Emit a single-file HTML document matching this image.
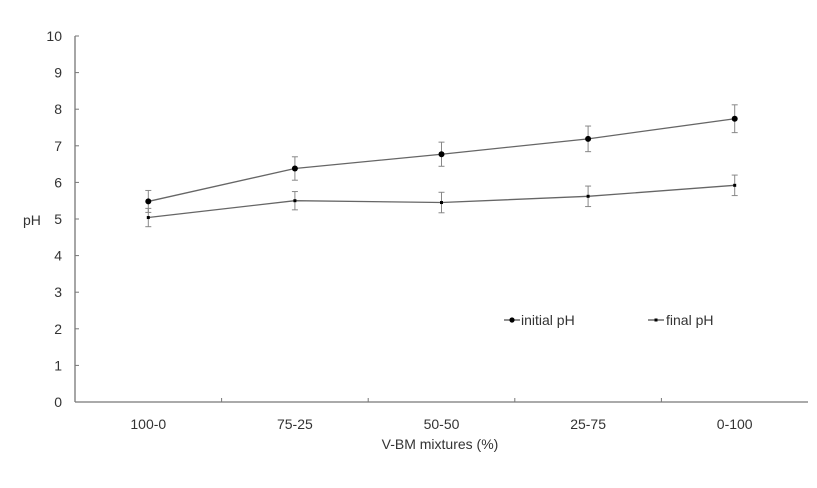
<!DOCTYPE html>
<html><head><meta charset="utf-8"><style>
body{margin:0;background:#fff;}
svg text{font-family:"Liberation Sans",sans-serif;fill:#333;}
</style></head><body>
<svg width="817" height="483" xmlns="http://www.w3.org/2000/svg">
<g id="axes"></g><g id="series"></g>
<text x="23" y="225" font-size="14">pH</text>
<text x="440" y="449" font-size="14" text-anchor="middle">V-BM mixtures (%)</text>
<g>
<line x1="504" y1="320" x2="520" y2="320" stroke="#555" stroke-width="1.3"/>
<circle cx="512" cy="320" r="2.6" fill="#000"/>
<text x="521" y="325" font-size="14">initial pH</text>
<line x1="648" y1="320" x2="664" y2="320" stroke="#555" stroke-width="1.3"/>
<rect x="654.5" y="318.5" width="3" height="3" fill="#000"/>
<text x="666" y="325" font-size="14">final pH</text>
</g>
</svg>
<script>
const categories=["100-0","75-25","50-50","25-75","0-100"];
const initialPH=[5.48,6.38,6.77,7.19,7.74];
const initialErr=[0.3,0.32,0.33,0.35,0.38];
const finalPH=[5.04,5.5,5.45,5.62,5.92];
const finalErr=[0.25,0.25,0.28,0.28,0.28];
const yTicks=[0,1,2,3,4,5,6,7,8,9,10];
const NS="http://www.w3.org/2000/svg";
const x0=75,x1=808,y0=402,yTop=36;
const bw=(x1-x0)/categories.length;
const xs=i=>x0+bw*(i+0.5);
const ys=v=>y0-(v/10)*(y0-yTop);
function mk(tag,attrs,parent){const e=document.createElementNS(NS,tag);for(const k in attrs)e.setAttribute(k,attrs[k]);parent.appendChild(e);return e;}
const ax=document.getElementById('axes');
let yl=mk('line',{x1:x0,y1:yTop,x2:x0,y2:y0,stroke:'#777','stroke-width':1.3},ax);


let xl=mk('line',{x1:x0,y1:y0,x2:x1,y2:y0,stroke:'#777','stroke-width':1.3},ax);


yTicks.forEach(t=>{
 mk('line',{x1:x0,y1:ys(t),x2:x0+4,y2:ys(t),stroke:'#777'},ax);
 const tx=mk('text',{x:x0-13,y:ys(t)+5,'font-size':14,'text-anchor':'end'},ax);
 tx.textContent=t;
 
 
});
categories.forEach((c,i)=>{
 if(i>0) mk('line',{x1:x0+bw*i,y1:y0,x2:x0+bw*i,y2:y0-4,stroke:'#777'},ax);
 const tx=mk('text',{x:xs(i),y:y0+27,'font-size':14,'text-anchor':'middle'},ax);
 tx.textContent=c;
 
 
});
const sg=document.getElementById('series');
function series(vals,errs,name,marker){
 const g=mk('g',{},sg);
 
 
 mk('polyline',{points:vals.map((v,i)=>xs(i)+','+ys(v)).join(' '),fill:'none',stroke:'#666','stroke-width':1.3},g);
 vals.forEach((v,i)=>{
  const x=xs(i),a=ys(v+errs[i]),b=ys(v-errs[i]);
  mk('line',{x1:x,y1:a,x2:x,y2:b,stroke:'#888'},g);
  mk('line',{x1:x-3,y1:a,x2:x+3,y2:a,stroke:'#888'},g);
  mk('line',{x1:x-3,y1:b,x2:x+3,y2:b,stroke:'#888'},g);
  let m;
  if(marker==='circle') m=mk('circle',{cx:x,cy:ys(v),r:3,fill:'#000'},g);
  else m=mk('rect',{x:x-1.5,y:ys(v)-1.5,width:3,height:3,fill:'#000'},g);
  
  
 });
}
series(initialPH,initialErr,'initial-ph-series','circle');
series(finalPH,finalErr,'final-ph-series','square');
</script>
</body></html>
